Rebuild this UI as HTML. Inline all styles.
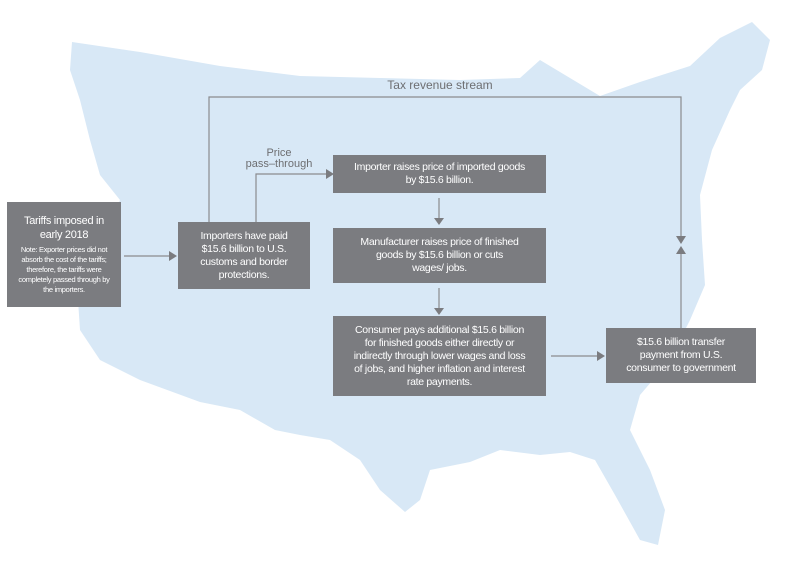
<!DOCTYPE html>
<html><head><style>
body{margin:0;background:#fff;width:786px;height:576px;overflow:hidden;position:relative;font-family:"Liberation Sans",sans-serif}
.b{position:absolute;background:#7b7c80;color:#fff;text-align:center;font-size:10.5px;line-height:13px;box-sizing:border-box;display:flex;flex-direction:column;justify-content:center;letter-spacing:-0.3px}
svg{position:absolute;left:0;top:0}
</style></head><body>
<svg width="786" height="576">
<path fill="#d8e8f6" d="M72,42 L140,52 L220,66 L300,76 L380,78 L460,80 L520,78 L540,60 L560,72 L600,96 L640,82 L690,66 L720,38 L752,22 L770,40 L762,70 L740,90 L730,110 L712,150 L700,195 L702,240 L705,285 L690,320 L670,360 L640,395 L630,430 L650,470 L665,510 L658,545 L640,540 L615,495 L595,460 L570,452 L540,455 L500,450 L470,462 L430,470 L420,500 L405,512 L380,490 L360,460 L330,440 L300,435 L275,430 L240,410 L200,402 L140,380 L100,360 L80,330 L78,300 L90,270 L110,225 L120,200 L100,175 L90,140 L80,100 L70,70 Z"/>
<g stroke="#8a8b8e" stroke-width="1.2" fill="none">
<path d="M209,222 V97 H681 V236"/>
<path d="M681,328 V254"/>
<path d="M256,222 V174 H326"/>
<path d="M124,256 H170"/>
<path d="M439,198 V218"/>
<path d="M439,288 V308"/>
<path d="M551,356 H597"/>
</g>
<g fill="#7b7c80">
<path d="M676,236 L686,236 L681,244 Z"/>
<path d="M676,254 L686,254 L681,246 Z"/>
<path d="M326,169 L326,179 L334,174 Z"/>
<path d="M169,251 L169,261 L177,256 Z"/>
<path d="M434,218 L444,218 L439,225 Z"/>
<path d="M434,308 L444,308 L439,315 Z"/>
<path d="M597,351 L597,361 L605,356 Z"/>
</g>
<text x="440" y="89" font-size="12" fill="#6d6e71" text-anchor="middle" font-family="Liberation Sans">Tax revenue stream</text>
<text x="279" y="156" font-size="11" fill="#6d6e71" text-anchor="middle" font-family="Liberation Sans">Price</text>
<text x="279" y="167" font-size="11" fill="#6d6e71" text-anchor="middle" font-family="Liberation Sans">pass–through</text>
</svg>
<div class="b" style="left:7px;top:202px;width:114px;height:105px"><div style="font-size:11px;line-height:14px">Tariffs imposed in<br>early 2018</div><div style="font-size:7.5px;line-height:10px;margin-top:3px;padding:0 8px">Note: Exporter prices did not absorb the cost of the tariffs; therefore, the tariffs were completely passed through by the importers.</div></div>
<div class="b" style="left:178px;top:222px;width:132px;height:67px">Importers have paid<br>$15.6 billion to U.S.<br>customs and border<br>protections.</div>
<div class="b" style="left:333px;top:155px;width:213px;height:38px">Importer raises price of imported goods<br>by $15.6 billion.</div>
<div class="b" style="left:333px;top:228px;width:213px;height:55px">Manufacturer raises price of finished<br>goods by $15.6 billion or cuts<br>wages/ jobs.</div>
<div class="b" style="left:333px;top:316px;width:213px;height:80px">Consumer pays additional $15.6 billion<br>for finished goods either directly or<br>indirectly through lower wages and loss<br>of jobs, and higher inflation and interest<br>rate payments.</div>
<div class="b" style="left:606px;top:328px;width:150px;height:55px">$15.6 billion transfer<br>payment from U.S.<br>consumer to government</div>
</body></html>
